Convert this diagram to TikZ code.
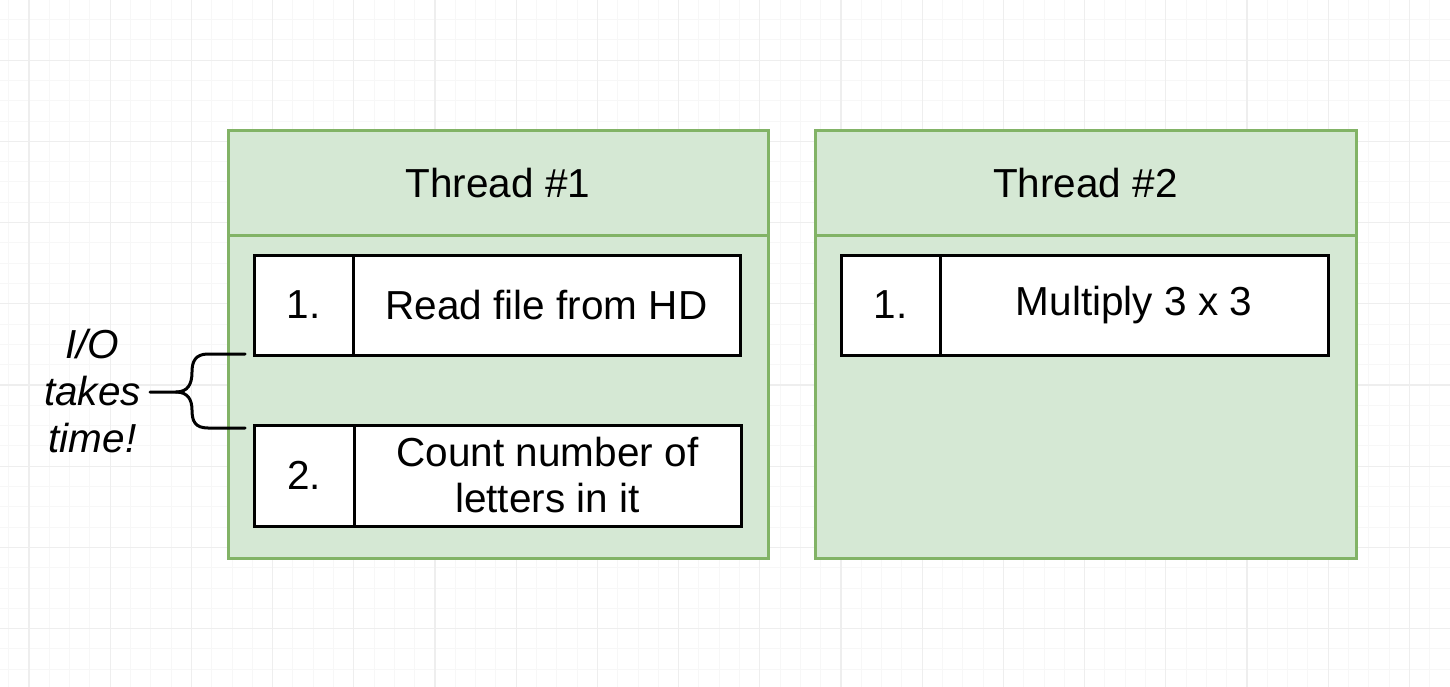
\documentclass[tikz,border=0pt]{standalone}
\usepackage{fontspec}
\setmainfont{Liberation Sans}
\definecolor{gfill}{HTML}{D5E8D4}
\definecolor{gline}{HTML}{82B366}
\definecolor{gridmajor}{HTML}{EEEEEE}
\definecolor{gridminor}{HTML}{F7F7F7}
\tikzset{
  x=1pt,y=-1pt,
  txt/.style={font=\fontsize{40.5}{46}\selectfont, align=center, inner sep=0pt},
  threadpart/.style={draw=gline, fill=gfill, line width=3pt, inner sep=0pt},
  cellbox/.style={draw=black, fill=white, line width=3pt, inner sep=0pt, txt},
  bracepath/.style={draw=black, line width=3pt, line cap=round, line join=round},
}
\begin{document}
\begin{tikzpicture}
\useasboundingbox (0,0) rectangle (1450,687);
\fill[white] (0,0) rectangle (1450,687);
% grid
\foreach \i in {0,...,72} {
  \draw[gridminor, line width=1pt] ({29+20.3*(\i-1)},0) -- ({29+20.3*(\i-1)},687);
}
\foreach \i in {0,...,35} {
  \draw[gridminor, line width=1pt] (0,{385-20.3*19+20.3*\i}) -- (1450,{385-20.3*19+20.3*\i});
}
\foreach \i in {0,...,18} {
  \draw[gridmajor, line width=1.2pt] ({29+81.2*\i},0) -- ({29+81.2*\i},687);
}
\foreach \i in {0,...,9} {
  \draw[gridmajor, line width=1.2pt] (0,{385-81.2*4+81.2*\i}) -- (1450,{385-81.2*4+81.2*\i});
}
% Thread 1
\node[threadpart, minimum width=540pt, minimum height=323pt] (t1body) at (498,396.5) {};
\node[threadpart, minimum width=540pt, minimum height=104pt, txt] (t1head) at (498,183) {Thread \#1};
% Thread 2
\node[threadpart, minimum width=541pt, minimum height=323pt] (t2body) at (1085.5,396.5) {};
\node[threadpart, minimum width=541pt, minimum height=104pt, txt] (t2head) at (1085.5,183) {Thread \#2};
% Thread 1 cells
\node[cellbox, minimum width=99pt, minimum height=100pt] (a1n) at (303.5,305) {1.};
\node[cellbox, minimum width=387pt, minimum height=100pt] (a1t) at (546.5,305) {Read file from HD};
\node[cellbox, minimum width=100pt, minimum height=101pt] (a2n) at (304,475.5) {2.};
\node[cellbox, minimum width=387pt, minimum height=101pt] (a2t) at (547.5,475.5) {Count number of\\letters in it};
% Thread 2 cell
\node[cellbox, minimum width=99pt, minimum height=100pt] (b1n) at (890.5,305) {1.};
\node[cellbox, minimum width=388pt, minimum height=100pt] (b1t) at (1134,305) {Multiply 3 x 3};
% brace
\coordinate (btop) at (245,354);
\coordinate (bbot) at (245,428);
\coordinate (btip) at (150,392);
\draw[bracepath] (btop) -- (208,354) .. controls (195,354) and (192,362) .. (192,372)
  .. controls (192,384) and (188,392) .. (176,392) -- (btip);
\draw[bracepath] (176,392) .. controls (188,392) and (192,400) .. (192,410)
  .. controls (192,421) and (195,428) .. (208,428) -- (bbot);
\node[txt, font=\fontsize{40.5}{47}\selectfont\itshape, anchor=east] (iolabel) at (141,391) {I/O\\takes\\time!};
\end{tikzpicture}
\end{document}
